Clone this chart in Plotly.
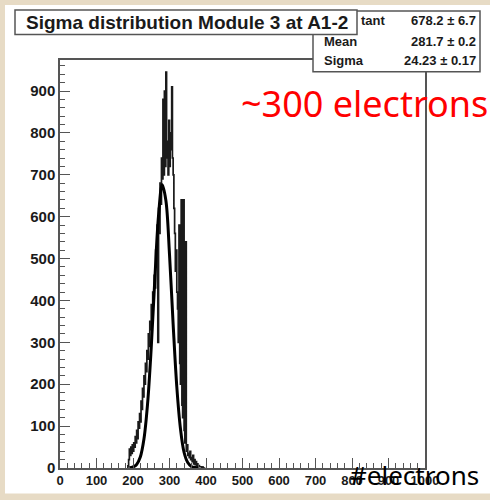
import plotly.graph_objects as go

# ---- data ----
bin_width = 2
bin_starts = list(range(184, 398, 2))
counts = [0, 5, 20, 45, 30, 50, 35, 55, 40, 60,
          50, 75, 60, 90, 70, 110, 95, 130, 110, 160,
          140, 190, 170, 220, 200, 250, 230, 280, 260, 320,
          290, 350, 330, 390, 360, 420, 400, 460, 430, 520,
          480, 580, 300, 620, 560, 680, 630, 740, 690, 880,
          700, 900, 720, 945, 740, 780, 700, 830, 720, 800,
          760, 910, 740, 700, 620, 560, 470, 520, 420, 380,
          300, 580, 250, 200, 640, 150, 120, 640, 90, 60,
          540, 40, 55, 30, 35, 25, 40, 20, 25, 15,
          30, 10, 20, 8, 15, 5, 10, 4, 6, 3,
          2, 3, 1, 2, 0, 1, 0]
fit_x = [190, 200, 210, 220, 230, 240, 250, 260, 270, 280, 290, 300, 310, 320, 330, 340, 350, 360, 370, 380]
fit_y = [0.5, 2.4, 8.5, 26, 69, 154, 288, 454, 603, 676, 639, 510, 343, 194, 94, 37, 13, 3.7, 1, 0.2]

title_text = "Sigma distribution Module 3 at A1-2"
stat_names = ["tant", "Mean", "Sigma"]
stat_values = ["678.2 ± 6.7", "281.7 ± 0.2", "24.23 ± 0.17"]
x_ticks = [0, 100, 200, 300, 400, 500, 600, 700, 800, 900, 1000]
y_ticks = [0, 100, 200, 300, 400, 500, 600, 700, 800, 900]

# ---- layout geometry (pixels) ----
W, H = 490, 500
L, R, T, B = 60, 425, 60, 476
PW, PH = R - L, B - T

def px(x):
    return (x - L) / PW

def py(y):
    return (B - y) / PH

# step-histogram outline
hx, hy = [bin_starts[0]], [0]
for s, c in zip(bin_starts, counts):
    hx += [s, s + bin_width]
    hy += [c, c]
hx.append(bin_starts[-1] + bin_width)
hy.append(0)

fig = go.Figure()
fig.add_trace(go.Scatter(x=hx, y=hy, mode="lines",
                         line=dict(color="#1a1a1a", width=1.7), hoverinfo="skip"))
fig.add_trace(go.Scatter(x=fit_x, y=fit_y, mode="lines", line_shape="spline",
                         line=dict(color="black", width=3), hoverinfo="skip"))

frame_col = "#555555"
axis_common = dict(showgrid=False, zeroline=False, showline=True, linecolor=frame_col,
                   linewidth=1.5, mirror=True, ticks="inside", tickcolor=frame_col,
                   tickwidth=1)

fig.update_xaxes(range=[0, 1000], tickvals=x_ticks, ticktext=["<b>%d</b>" % v for v in x_ticks],
                 ticklen=10, tickfont=dict(family="Liberation Sans", size=13, color="#1a1a1a"),
                 minor=dict(dtick=20, ticklen=5, ticks="inside", tickcolor=frame_col), **axis_common)
fig.update_yaxes(range=[0, 974], tickvals=y_ticks, ticktext=["<b>%d</b>" % v for v in y_ticks],
                 ticklen=10, tickfont=dict(family="Liberation Sans", size=15, color="#1a1a1a"),
                 minor=dict(dtick=20, ticklen=5, ticks="inside", tickcolor=frame_col), **axis_common)

shapes = [
    # white canvas
    dict(type="rect", xref="paper", yref="paper", x0=px(5), x1=px(492), y0=py(502), y1=py(4),
         fillcolor="white", line=dict(width=0), layer="below"),
    # stats box
    dict(type="rect", xref="paper", yref="paper", x0=px(313), x1=px(480), y0=py(72), y1=py(10),
         fillcolor="white", line=dict(color=frame_col, width=1.5), layer="above"),
    # title box
    dict(type="rect", xref="paper", yref="paper", x0=px(15), x1=px(357), y0=py(34), y1=py(9),
         fillcolor="white", line=dict(color=frame_col, width=1.5), layer="above"),
]

ann = [dict(text="<b>%s</b>" % title_text, xref="paper", yref="paper", x=px(187), y=py(21.5),
            xanchor="center", yanchor="middle", showarrow=False,
            font=dict(family="Liberation Sans", size=19, color="#1a1a1a"))]
row_y = [20, 41, 61]
for i, (n, v) in enumerate(zip(stat_names, stat_values)):
    nx = 359 if i == 0 else 322
    ann.append(dict(text="<b>%s</b>" % n, xref="paper", yref="paper", x=px(nx), y=py(row_y[i]),
                    xanchor="left", yanchor="middle", showarrow=False,
                    font=dict(family="Liberation Sans", size=13, color="#1a1a1a")))
    ann.append(dict(text="<b>%s</b>" % v, xref="paper", yref="paper", x=px(478), y=py(row_y[i]),
                    xanchor="right", yanchor="middle", showarrow=False,
                    font=dict(family="Liberation Sans", size=13, color="#1a1a1a")))
ann.append(dict(text="~300 electrons", xref="paper", yref="paper", x=px(239), y=py(104),
                xanchor="left", yanchor="middle", showarrow=False,
                font=dict(family="Noto Sans", size=36, color="red")))
ann.append(dict(text="#electrons", xref="paper", yref="paper", x=px(348), y=py(483),
                xanchor="left", yanchor="middle", showarrow=False,
                font=dict(family="Noto Sans", size=26, color="black")))

fig.update_layout(width=W, height=H, margin=dict(l=L, r=W - R, t=T, b=H - B, pad=0),
                  paper_bgcolor="#e7dbc5", plot_bgcolor="white", showlegend=False,
                  shapes=shapes, annotations=ann)

fig.write_html("out.html")
